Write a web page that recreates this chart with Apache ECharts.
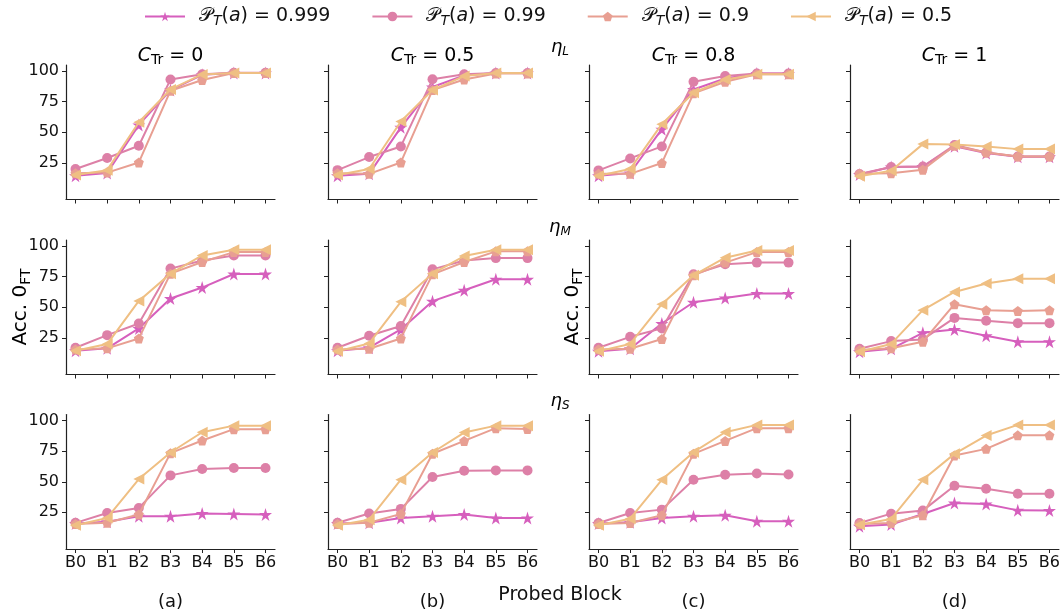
<!DOCTYPE html>
<html>
<head>
<meta charset="utf-8">
<script src="https://cdn.jsdelivr.net/npm/echarts@6/dist/echarts.min.js"></script>
<style>
  html, body { margin: 0; padding: 0; background: #fff; }
  #chart { width: 1063px; height: 616px; }
</style>
</head>
<body>
<div id="chart"></div>
<script>
// Probe accuracy per block, one panel per (eta, C_Tr) pair.
const blocks = ['B0', 'B1', 'B2', 'B3', 'B4', 'B5', 'B6'];
const probs = ['0.999', '0.99', '0.9', '0.5'];
const cTrValues = ['0', '0.5', '0.8', '1'];
const etaSubs = ['L', 'M', 'S'];
const panelTags = ['(a)', '(b)', '(c)', '(d)'];
const yTicks = [25, 50, 75, 100];

// Each panel: rows follow `probs` order
const etaL_C0 = [
  [14.5, 16.7, 56, 84.5, 97, 98.5, 98.5],
  [20, 28.9, 39, 93.2, 97.5, 98.6, 98.6],
  [16.5, 17, 25.3, 84, 92.7, 98.5, 98.5],
  [15, 19, 58.2, 85, 97.3, 98.5, 98.5]
];
const etaL_C05 = [
  [14.5, 16, 54, 87, 96.5, 98.5, 98.5],
  [19, 29.7, 38.4, 93.3, 97.5, 98.5, 98.5],
  [16.5, 16, 25.3, 84.5, 93.2, 98, 98],
  [15, 20, 58.8, 84.5, 96, 98.5, 98.5]
];
const etaL_C08 = [
  [14.5, 16.7, 52.5, 85, 94, 98, 98],
  [18.8, 28.6, 38.4, 91.3, 96, 98, 98],
  [16, 16, 24.8, 81.8, 91.3, 97.5, 97.5],
  [14.5, 20, 56.6, 82.3, 93.2, 97.5, 97.5]
];
const etaL_C1 = [
  [15.5, 21.5, 22, 38.5, 33, 30, 30],
  [15.9, 21.6, 22, 39.5, 33.5, 30.2, 30.2],
  [16, 16.5, 19.4, 39, 33.5, 30.2, 30.2],
  [14, 18.6, 40.3, 40, 38.4, 36.2, 36.2]
];
const etaM_C0 = [
  [14.4, 16.4, 32.7, 57.1, 66.1, 77.2, 77.2],
  [16.9, 27.2, 36.7, 81.6, 88.3, 92.4, 92.4],
  [15.5, 16.4, 24.5, 77.5, 87, 95.1, 95.1],
  [14.4, 19.9, 55.2, 77.5, 92.4, 97, 97]
];
const etaM_C05 = [
  [14.4, 16.9, 31.9, 55, 63.9, 72.9, 72.9],
  [16.9, 26.7, 34.6, 81, 88.3, 90.2, 90.2],
  [15.5, 16, 24.5, 76.9, 87, 95.7, 95.7],
  [14, 20.4, 54.4, 77.5, 91.9, 97, 97]
];
const etaM_C08 = [
  [14.1, 16, 36.7, 54.1, 57.6, 61.2, 61.2],
  [16.9, 25.8, 32.7, 76.9, 85.1, 86.5, 86.5],
  [15.5, 16, 24, 76.1, 86.5, 95.1, 95.1],
  [14.1, 20, 52.5, 76.1, 90.5, 96.4, 96.4]
];
const etaM_C1 = [
  [13.6, 16, 29.1, 31.9, 26.7, 21.8, 21.8],
  [16, 22.3, 23.7, 41.3, 38.9, 37, 37],
  [15, 16.4, 21.8, 52.5, 47.6, 47, 47.6],
  [13.6, 20, 47.6, 62.5, 69.4, 73.4, 73.4]
];
const etaS_C0 = [
  [15.8, 17.2, 21.8, 21.8, 24, 23.7, 23.2],
  [16.4, 24.5, 28.6, 55.2, 60.4, 61.2, 61.2],
  [15.5, 16.4, 23.2, 73.4, 83.7, 93, 93],
  [14.4, 20.4, 52.2, 73.9, 90.5, 95.9, 95.9]
];
const etaS_C05 = [
  [15.8, 16.4, 20.4, 21.8, 23.2, 20.4, 20.4],
  [16.4, 24, 27.8, 53.9, 59, 59.3, 59.3],
  [15.5, 16.4, 23.7, 72.9, 83.4, 93.8, 93.2],
  [14.4, 19, 51.7, 73.9, 90.2, 95.9, 95.9]
];
const etaS_C08 = [
  [15.8, 16.8, 20.4, 21.7, 22.6, 17.7, 17.7],
  [16.3, 24.5, 27.2, 51.6, 55.7, 56.8, 56],
  [15.5, 16.3, 22.6, 72.8, 83.4, 93.8, 93.8],
  [14.4, 19.8, 51.6, 74.2, 90.5, 96.5, 96.5]
];
const etaS_C1 = [
  [13.6, 15, 23.6, 32.6, 31.8, 26.6, 26.4],
  [16.3, 23.9, 26.4, 46.7, 44.3, 40.2, 40.2],
  [15.5, 16.3, 22.6, 71.5, 76.9, 88, 88],
  [14.9, 19.6, 51.6, 72.8, 87.8, 96.5, 96.5]
];

const panels = [
  [etaL_C0, etaL_C05, etaL_C08, etaL_C1],
  [etaM_C0, etaM_C05, etaM_C08, etaM_C1],
  [etaS_C0, etaS_C05, etaS_C08, etaS_C1]
];

const FONT = 'DejaVu Sans';
const colors = ['#d65fbd', '#dd80a7', '#e89f92', '#efbf83'];
const symbols = [
  'path://M50,0 L61,35 L98,35 L68,57 L79,91 L50,70 L21,91 L32,57 L2,35 L39,35 Z',
  'circle',
  'path://M50,0 L98,35 L79,91 L21,91 L2,35 Z',
  'path://M0,50 L90,0 L90,100 Z'
];
const symbolSizes = [13, 10, 10, 11];

const colLeft = [66, 328, 589, 850];
const rowTop = [65, 240, 414.5];
const plotW = 209, plotH = 134.5;

const grids = [], xAxes = [], yAxes = [], series = [];
const axisColor = '#222';
const blockIdx = blocks.map((_, i) => i);

for (let r = 0; r < 3; r++) {
  for (let c = 0; c < 4; c++) {
    const idx = r * 4 + c;
    grids.push({ left: colLeft[c], top: rowTop[r], width: plotW, height: plotH });
    xAxes.push({
      type: 'value', gridIndex: idx, min: -0.3, max: 6.3,
      axisLine: { show: true, onZero: false, lineStyle: { color: axisColor, width: 1.2 } },
      axisTick: { show: true, customValues: blockIdx, length: 4, lineStyle: { color: axisColor } },
      axisLabel: {
        show: r === 2, customValues: blockIdx, margin: 6,
        formatter: v => blocks[Math.round(v)] || '',
        fontFamily: FONT, fontSize: 16, color: '#111'
      },
      splitLine: { show: false }
    });
    yAxes.push({
      type: 'value', gridIndex: idx, min: -5, max: 105,
      axisLine: { show: true, onZero: false, lineStyle: { color: axisColor, width: 1.2 } },
      axisTick: { show: true, customValues: yTicks, length: 4, lineStyle: { color: axisColor } },
      axisLabel: {
        show: c === 0, customValues: yTicks, margin: 7,
        fontFamily: FONT, fontSize: 16, color: '#111'
      },
      splitLine: { show: false }
    });
    const panel = panels[r][c];
    for (let k = 0; k < 4; k++) {
      series.push({
        type: 'line', name: probs[k], xAxisIndex: idx, yAxisIndex: idx,
        data: panel[k].map((v, i) => [i, v]),
        symbol: symbols[k], symbolSize: symbolSizes[k],
        lineStyle: { color: colors[k], width: 2 },
        itemStyle: { color: colors[k] },
        animation: false, z: 2 + k
      });
    }
  }
}

const legendRich = {
  P: { fontFamily: FONT, fontSize: 19, color: '#111' },
  sub: { fontFamily: FONT, fontSize: 14, fontStyle: 'italic', color: '#111', padding: [9, 0, 0, 0] },
  it: { fontFamily: FONT, fontSize: 19, fontStyle: 'italic', color: '#111' },
  n: { fontFamily: FONT, fontSize: 19, color: '#111' }
};

const titleRich = {
  c: { fontFamily: FONT, fontSize: 19, fontStyle: 'italic', color: '#111' },
  sub: { fontFamily: FONT, fontSize: 14, color: '#111', padding: [9, 0, 0, 0] },
  n: { fontFamily: FONT, fontSize: 19, color: '#111' }
};

const etaRich = {
  e: { fontFamily: FONT, fontSize: 18, fontStyle: 'italic', color: '#111' },
  sub: { fontFamily: FONT, fontSize: 12, fontStyle: 'italic', color: '#111', padding: [9, 0, 0, 0] }
};

const graphics = [];
// column titles and panel tags
for (let c = 0; c < 4; c++) {
  graphics.push({
    type: 'text', x: colLeft[c] + plotW / 2, y: 56,
    style: {
      text: '{c|C}{sub|Tr}{n| = ' + cTrValues[c] + '}',
      rich: titleRich, textAlign: 'center', textVerticalAlign: 'middle'
    }
  });
  graphics.push({
    type: 'text', x: colLeft[c] + plotW / 2, y: 602,
    style: {
      text: panelTags[c], fontFamily: FONT, fontSize: 18, fill: '#111',
      textAlign: 'center', textVerticalAlign: 'middle'
    }
  });
}
// eta row labels
const etaY = [47, 227, 401];
for (let r = 0; r < 3; r++) {
  graphics.push({
    type: 'text', x: 560, y: etaY[r],
    style: {
      text: '{e|η}{sub|' + etaSubs[r] + '}', rich: etaRich,
      textAlign: 'center', textVerticalAlign: 'middle'
    }
  });
}
// y axis titles on middle row
const yNameRich = {
  n: { fontFamily: FONT, fontSize: 20, color: '#111' },
  sub: { fontFamily: FONT, fontSize: 14, color: '#111', padding: [10, 0, 0, 0] }
};
[21, 573].forEach(x => {
  graphics.push({
    type: 'text', x: x, y: 307, rotation: Math.PI / 2,
    style: {
      text: '{n|Acc. 0}{sub|FT}', rich: yNameRich,
      textAlign: 'center', textVerticalAlign: 'middle'
    }
  });
});
graphics.push({
  type: 'text', x: 560, y: 595,
  style: {
    text: 'Probed Block', fontFamily: FONT, fontSize: 19, fill: '#111',
    textAlign: 'center', textVerticalAlign: 'middle'
  }
});

const chart = echarts.init(document.getElementById('chart'), null, { renderer: 'canvas' });
chart.setOption({
  backgroundColor: '#fff',
  animation: false,
  legend: {
    data: probs,
    left: 139, top: 2, itemWidth: 40, itemHeight: 12, itemGap: 41,
    formatter: name => '{P|𝒫}{sub|T}{n|(}{it|a}{n|) = ' + name + '}',
    textStyle: { rich: legendRich, padding: [0, 0, 0, 9] },
    selectedMode: false
  },
  grid: grids,
  xAxis: xAxes,
  yAxis: yAxes,
  series: series,
  graphic: graphics
});
</script>
</body>
</html>
